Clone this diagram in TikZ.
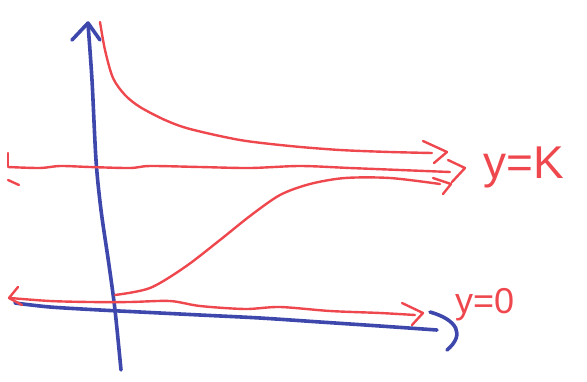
\documentclass[tikz,border=0pt]{standalone}
\usepackage{fontspec}
\setmainfont{Liberation Sans}
\definecolor{penred}{RGB}{238,72,78}
\definecolor{penblue}{RGB}{62,72,172}
\begin{document}
\begin{tikzpicture}[x=1pt,y=-1pt,
  redpen/.style={draw=penred,line width=2.4pt,line cap=round,line join=round},
  bluepen/.style={draw=penblue,line width=3.6pt,line cap=round,line join=round},
  lab/.style={text=penred,inner sep=0pt,anchor=base west}]
\useasboundingbox (0,0) rectangle (587,381);
% blue axes
\draw[bluepen] plot[smooth] coordinates {(121,370) (115,310) (109,265) (101,210) (96,160) (92,80) (88,24)};
\draw[bluepen] (72,40) -- (88,23) -- (100,40);
\draw[bluepen] plot[smooth] coordinates {(15,303) (50,307) (100,310) (140,312) (200,315) (260,318) (320,322) (380,326) (437,330)};
\draw[bluepen] (430,312) .. controls (458,320) and (465,335) .. (447,350);
% red: top curve
\draw[redpen] plot[smooth] coordinates {(100,22) (105,50) (113,78) (125,95) (140,107) (165,120) (190,129) (240,140) (290,146) (340,150) (390,152) (432,153)};
\draw[redpen] (423,141) -- (447,152) -- (434,163);
% red: y=K line
\draw[redpen] plot[smooth] coordinates {(8,167) (40,168) (60,166) (90,167) (130,168) (150,166) (200,167) (250,168) (300,166) (350,168) (400,170) (450,172)};
\draw[redpen] (448,160) -- (465,168) -- (452,182);
\draw[redpen] (8,153) -- (8,166);
\draw[redpen] (8,180) -- (19,185);
% red: S curve
\draw[redpen] plot[smooth] coordinates {(115,295) (150,288) (185,267) (220,240) (250,216) (280,195) (310,184) (345,178) (390,178) (440,184)};
\draw[redpen] (433,178) -- (451,184) -- (443,194);
% red: y=0 line
\draw[redpen] plot[smooth] coordinates {(10,298) (50,301) (90,302) (130,302) (170,301) (200,306) (245,309) (280,307) (330,311) (380,313) (415,315)};
\draw[redpen] (402,303) -- (423,313) -- (412,325);
\draw[redpen] (18,287) -- (9,298) -- (22,305);
% labels
\node[lab,font=\fontsize{46}{46}\selectfont] (lk) at (483,178) {y=K};
\node[lab,font=\fontsize{36}{36}\selectfont] (l0) at (455,313) {y=0};
\end{tikzpicture}
\end{document}
